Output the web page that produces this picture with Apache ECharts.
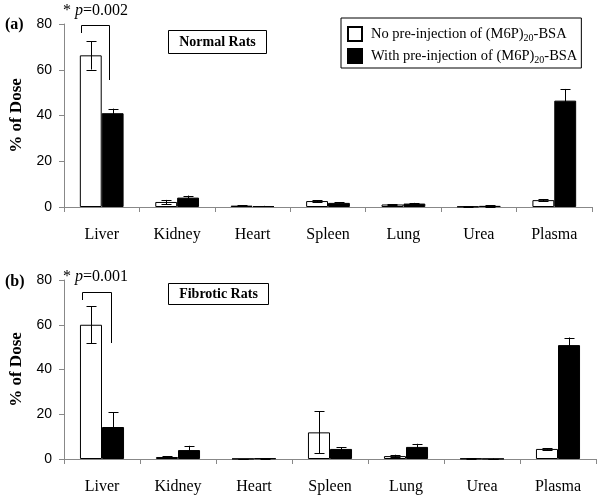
<!DOCTYPE html>
<html>
<head>
<meta charset="utf-8">
<script src="https://cdn.jsdelivr.net/npm/echarts@6/dist/echarts.min.js"></script>
<style>html,body{margin:0;padding:0;background:#fff;}#c{width:601px;height:501px;}</style>
</head>
<body>
<div id="c"></div>
<script>
const categories = ['Liver','Kidney','Heart','Spleen','Lung','Urea','Plasma'];
const yTicks = [0, 20, 40, 60, 80];
// Panel (a) Normal rats
const normalNo = [66.3, 2.2, 0.6, 2.6, 1.1, 0.2, 3.0];
const normalNoErr = [6.2, 0.9, 0.2, 0.4, 0.2, 0.1, 0.5];
const normalWith = [41.0, 4.1, 0.4, 1.8, 1.5, 0.5, 46.5];
const normalWithErr = [2.0, 0.9, 0.1, 0.3, 0.3, 0.3, 5.1];
// Panel (b) Fibrotic rats
const fibNo = [60.0, 0.9, 0.1, 11.9, 1.3, 0.2, 4.5];
const fibNoErr = [8.2, 0.4, 0.0, 9.4, 0.6, 0.1, 0.3];
const fibWith = [14.3, 4.0, 0.3, 4.5, 5.4, 0.1, 50.9];
const fibWithErr = [6.7, 1.9, 0.1, 0.8, 1.4, 0.1, 3.4];

const SERIF = 'Liberation Serif';
const SANS = 'Liberation Sans';
const BW = 0.29;

function errData(vals, errs) {
  return vals.map((v, i) => [i, v, errs[i]]);
}
function errRender(side) {
  return function (params, api) {
    const cat = api.value(0), v = api.value(1), e = api.value(2);
    const cw = api.size([1, 0])[0];
    const off = side * cw * BW / 2;
    const t = api.coord([cat, v + e]);
    const b = api.coord([cat, Math.max(v - e, 0)]);
    const x = Math.round(t[0] + off) + 0.5;
    const cap = 5;
    const st = { stroke: '#000', lineWidth: 1 };
    return {
      type: 'group',
      children: [
        { type: 'line', shape: { x1: x, y1: t[1], x2: x, y2: b[1] }, style: st },
        { type: 'line', shape: { x1: x - cap, y1: Math.round(t[1]) + 0.5, x2: x + cap, y2: Math.round(t[1]) + 0.5 }, style: st },
        { type: 'line', shape: { x1: x - cap, y1: Math.round(b[1]) + 0.5, x2: x + cap, y2: Math.round(b[1]) + 0.5 }, style: st }
      ]
    };
  };
}

function xAxisCfg(gi) {
  return {
    type: 'category', gridIndex: gi, data: categories,
    axisLine: { lineStyle: { color: '#888', width: 1 } },
    axisTick: { show: true, length: 5, lineStyle: { color: '#888' } },
    axisLabel: { color: '#000', fontFamily: SERIF, fontSize: 16, margin: 20 }
  };
}
function yAxisCfg(gi) {
  return {
    type: 'value', gridIndex: gi, min: 0, max: 80, interval: 20,
    name: '% of Dose', nameLocation: 'middle', nameGap: 39,
    nameTextStyle: { fontFamily: SERIF, fontWeight: 'bold', fontSize: 17, color: '#000' },
    axisLine: { show: true, lineStyle: { color: '#888', width: 1 } },
    axisTick: { show: true, length: 5, lineStyle: { color: '#888' } },
    splitLine: { show: false },
    axisLabel: { color: '#000', fontFamily: SANS, fontSize: 14, margin: 12,
      formatter: v => yTicks.includes(v) ? String(v) : '' }
  };
}

const whiteStyle = { color: '#fff', borderColor: '#000', borderWidth: 1 };
const blackStyle = { color: '#000', borderColor: '#000', borderWidth: 1 };

function pText(x, y, p) {
  return {
    type: 'text', left: x, top: y,
    style: {
      text: '{n|* }{i|p}{n|=' + p + '}',
      rich: {
        n: { fontFamily: SERIF, fontSize: 16, fill: '#000' },
        i: { fontFamily: SERIF, fontSize: 16, fontStyle: 'italic', fill: '#000' }
      }
    }
  };
}

const chart = echarts.init(document.getElementById('c'), null, { renderer: 'canvas' });
chart.setOption({
  animation: false,
  backgroundColor: '#fff',
  grid: [
    { left: 58, top: 24, width: 534, height: 183 },
    { left: 58, top: 280, width: 538, height: 179 }
  ],
  xAxis: [xAxisCfg(0), xAxisCfg(1)],
  yAxis: [yAxisCfg(0), yAxisCfg(1)],
  legend: {
    left: 341, top: 18, orient: 'vertical',
    data: ['No pre-injection of (M6P)20-BSA', 'With pre-injection of (M6P)20-BSA'],
    icon: 'rect', itemWidth: 14, itemHeight: 14, itemGap: 5,
    borderColor: '#000', borderWidth: 1, padding: [8, 4, 3, 6],
    formatter: function (name) {
      const pre = name.startsWith('No') ? 'No pre-injection of (M6P)' : 'With pre-injection of (M6P)';
      return '{a|' + pre + '}{s|20}{b|-BSA}';
    },
    textStyle: {
      rich: {
        a: { fontFamily: SERIF, fontSize: 14.5, color: '#000', lineHeight: 18, padding: [0, 0, 0, 4] },
        b: { fontFamily: SERIF, fontSize: 14.5, color: '#000', lineHeight: 18 },
        s: { fontFamily: SERIF, fontSize: 10, color: '#000', lineHeight: 12, verticalAlign: 'bottom' }
      }
    }
  },
  series: [
    { name: 'No pre-injection of (M6P)20-BSA', type: 'bar', xAxisIndex: 0, yAxisIndex: 0, data: normalNo, barWidth: '29%', barGap: '0%', itemStyle: whiteStyle },
    { name: 'With pre-injection of (M6P)20-BSA', type: 'bar', xAxisIndex: 0, yAxisIndex: 0, data: normalWith, barWidth: '29%', barGap: '0%', itemStyle: blackStyle },
    { name: 'No pre-injection of (M6P)20-BSA', type: 'bar', xAxisIndex: 1, yAxisIndex: 1, data: fibNo, barWidth: '29%', barGap: '0%', itemStyle: whiteStyle },
    { name: 'With pre-injection of (M6P)20-BSA', type: 'bar', xAxisIndex: 1, yAxisIndex: 1, data: fibWith, barWidth: '29%', barGap: '0%', itemStyle: blackStyle },
    { type: 'custom', xAxisIndex: 0, yAxisIndex: 0, renderItem: errRender(-1), data: errData(normalNo, normalNoErr), z: 5, silent: true },
    { type: 'custom', xAxisIndex: 0, yAxisIndex: 0, renderItem: errRender(1), data: errData(normalWith, normalWithErr), z: 5, silent: true },
    { type: 'custom', xAxisIndex: 1, yAxisIndex: 1, renderItem: errRender(-1), data: errData(fibNo, fibNoErr), z: 5, silent: true },
    { type: 'custom', xAxisIndex: 1, yAxisIndex: 1, renderItem: errRender(1), data: errData(fibWith, fibWithErr), z: 5, silent: true }
  ],
  graphic: [
    { type: 'text', left: 5, top: 17, style: { text: '(a)', fontFamily: SERIF, fontWeight: 'bold', fontSize: 16, fill: '#000' } },
    { type: 'text', left: 5, top: 274, style: { text: '(b)', fontFamily: SERIF, fontWeight: 'bold', fontSize: 16, fill: '#000' } },
    pText(63, 3, '0.002'),
    pText(63, 269, '0.001'),
    { type: 'polyline', shape: { points: [[81.5, 33], [81.5, 25.5], [109.5, 25.5], [109.5, 80]] }, style: { stroke: '#000', lineWidth: 1, fill: null } },
    { type: 'polyline', shape: { points: [[82.5, 300], [82.5, 292.5], [111.5, 292.5], [111.5, 343]] }, style: { stroke: '#000', lineWidth: 1, fill: null } },
    { type: 'rect', shape: { x: 168.5, y: 30.5, width: 98, height: 23 }, style: { fill: '#fff', stroke: '#000', lineWidth: 1 } },
    { type: 'text', x: 217.5, y: 42, style: { text: 'Normal Rats', fontFamily: SERIF, fontWeight: 'bold', fontSize: 14, fill: '#000', align: 'center', verticalAlign: 'middle' } },
    { type: 'rect', shape: { x: 168.5, y: 283.5, width: 100, height: 21 }, style: { fill: '#fff', stroke: '#000', lineWidth: 1 } },
    { type: 'text', x: 218.5, y: 294, style: { text: 'Fibrotic Rats', fontFamily: SERIF, fontWeight: 'bold', fontSize: 14, fill: '#000', align: 'center', verticalAlign: 'middle' } }
  ]
});
</script>
</body>
</html>
